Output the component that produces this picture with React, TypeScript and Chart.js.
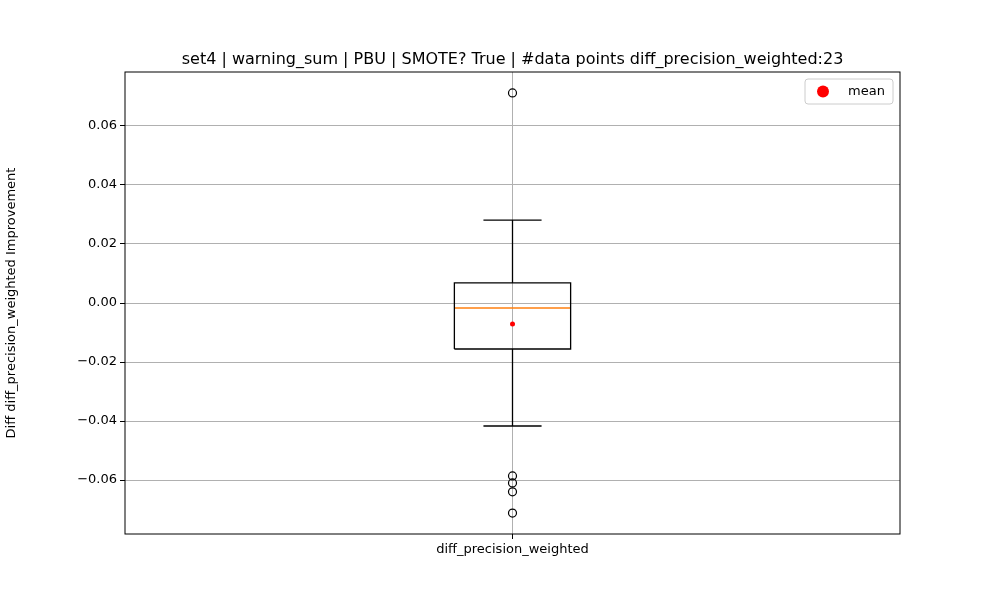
import { useEffect, useRef } from "react"
import { Chart, registerables } from "chart.js"

Chart.register(...registerables)

const category = "diff_precision_weighted"
const titleText = "set4 | warning_sum | PBU | SMOTE? True | #data points diff_precision_weighted:23"
const whiskerLow = -0.0417
const q1 = -0.0156
const median = -0.0017
const q3 = 0.0068
const whiskerHigh = 0.0281
const meanValue = -0.0071
const outliers = [0.0712, -0.0586, -0.061, -0.064, -0.0712]

const FONT = "DejaVu Sans"
const pos = 1
const half = 0.075
const capHalf = 0.0375

const line = (pts: { x: number; y: number }[], color: string) => ({
  type: "scatter" as const,
  data: pts,
  showLine: true,
  borderColor: color,
  borderWidth: 1.3,
  pointRadius: 0,
  label: "",
})

export default function App() {
  const ref = useRef<HTMLCanvasElement>(null)
  useEffect(() => {
    if (!ref.current) return
    const extras = {
      id: "extras",
      afterDraw(c: Chart) {
        const ctx = c.ctx
        const a = c.chartArea
        ctx.save()
        ctx.strokeStyle = "#000"
        ctx.lineWidth = 1
        ctx.strokeRect(a.left, a.top, a.right - a.left, a.bottom - a.top)
        ctx.fillStyle = "#000"
        ctx.font = `16px ${FONT}`
        ctx.textAlign = "center"
        ctx.textBaseline = "alphabetic"
        ctx.fillText(titleText, (a.left + a.right) / 2, 64)
        // legend
        ctx.fillStyle = "#fff"
        ctx.strokeStyle = "#ccc"
        ctx.beginPath()
        ctx.roundRect(805, 79, 88, 25, 3)
        ctx.fill()
        ctx.stroke()
        ctx.fillStyle = "red"
        ctx.beginPath()
        ctx.arc(823, 91.5, 6, 0, Math.PI * 2)
        ctx.fill()
        ctx.fillStyle = "#000"
        ctx.font = `13px ${FONT}`
        ctx.textAlign = "left"
        ctx.textBaseline = "middle"
        ctx.fillText("mean", 848, 92)
        ctx.restore()
      },
    }
    const chart = new Chart(ref.current, {
      type: "scatter",
      data: {
        datasets: [
          line(
            [
              { x: pos - half, y: q1 },
              { x: pos + half, y: q1 },
              { x: pos + half, y: q3 },
              { x: pos - half, y: q3 },
              { x: pos - half, y: q1 },
            ],
            "#000"
          ),
          line([{ x: pos, y: q3 }, { x: pos, y: whiskerHigh }], "#000"),
          line([{ x: pos, y: q1 }, { x: pos, y: whiskerLow }], "#000"),
          line([{ x: pos - capHalf, y: whiskerHigh }, { x: pos + capHalf, y: whiskerHigh }], "#000"),
          line([{ x: pos - capHalf, y: whiskerLow }, { x: pos + capHalf, y: whiskerLow }], "#000"),
          line([{ x: pos - half, y: median }, { x: pos + half, y: median }], "#ff7f0e"),
          {
            type: "scatter",
            label: "",
            data: outliers.map((y) => ({ x: pos, y })),
            pointRadius: 4,
            borderColor: "#000",
            borderWidth: 1.2,
            backgroundColor: "rgba(0,0,0,0)",
          },
          {
            type: "scatter",
            label: "mean",
            data: [{ x: pos, y: meanValue }],
            pointRadius: 2.5,
            borderWidth: 0,
            backgroundColor: "red",
          },
        ],
      },
      options: {
        animation: false,
        responsive: false,
        layout: { padding: { top: 72, right: 100, left: 0, bottom: 0 } },
        plugins: { legend: { display: false }, title: { display: false }, tooltip: { enabled: false } },
        scales: {
          x: {
            type: "linear",
            min: 0.5,
            max: 1.5,
            afterBuildTicks: (s: any) => {
              s.ticks = [{ value: pos }]
            },
            afterFit: (s: any) => {
              s.height = 66
            },
            ticks: { color: "#000", font: { family: FONT, size: 13 }, callback: () => category },
            grid: { color: "#b0b0b0", tickColor: "#000", tickLength: 5 },
            border: { display: false },
          },
          y: {
            min: -0.0783,
            max: 0.0783,
            afterBuildTicks: (s: any) => {
              s.ticks = [-0.06, -0.04, -0.02, 0, 0.02, 0.04, 0.06].map((v) => ({ value: v }))
            },
            afterFit: (s: any) => {
              s.width = 125
            },
            ticks: {
              color: "#000",
              font: { family: FONT, size: 13 },
              callback: (v: any) => Number(v).toFixed(2).replace("-", "\u2212"),
            },
            title: {
              display: true,
              text: "Diff diff_precision_weighted Improvement",
              color: "#000",
              font: { family: FONT, size: 13 },
            },
            grid: { color: "#b0b0b0", tickColor: "#000", tickLength: 5 },
            border: { display: false },
          },
        },
      },
      plugins: [extras],
    })
    return () => chart.destroy()
  }, [])
  return (
    <div style={{ width: 1000, height: 600, position: "fixed", left: 0, top: 0, background: "#fff" }}>
      <canvas ref={ref} width={1000} height={600} />
    </div>
  )
}
